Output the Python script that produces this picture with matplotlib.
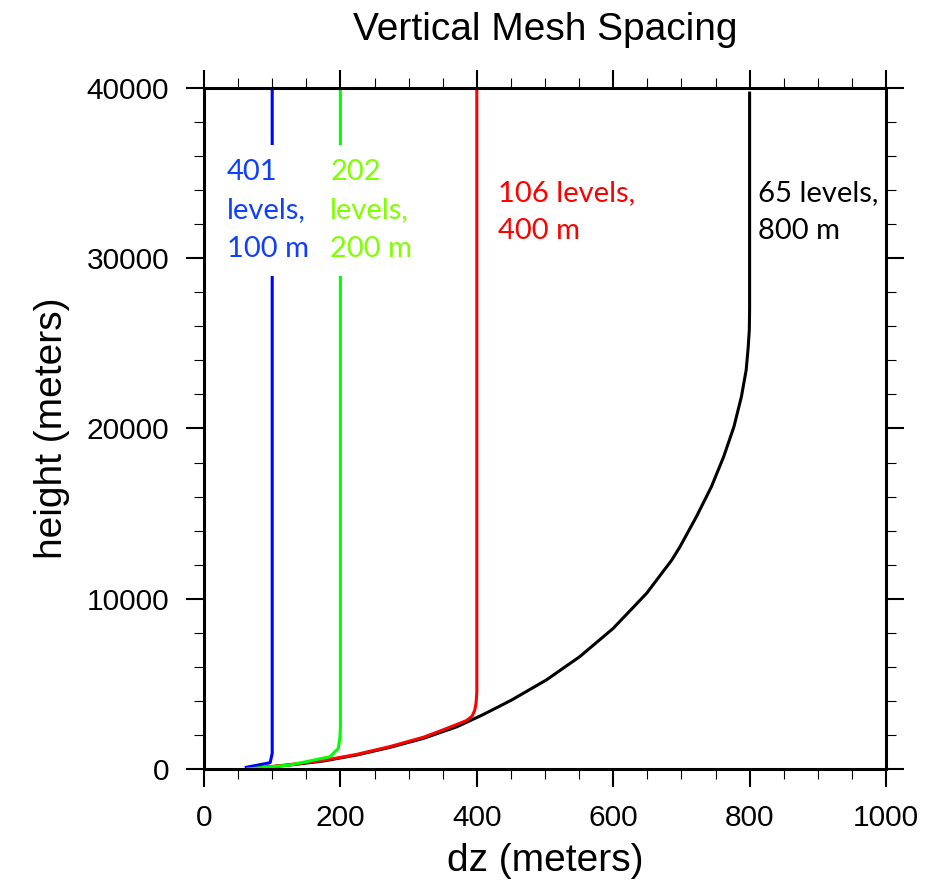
#!/usr/bin/env python3
# Vertical mesh spacing: layer thickness dz against height
import matplotlib
matplotlib.use("Agg")
import matplotlib.pyplot as plt
from matplotlib.ticker import MultipleLocator


# (dz, height) pairs for each grid.
dz_65 = [64, 126, 175, 224, 273, 322, 371, 408, 434, 451, 502, 551, 600,
         649, 686, 698, 722, 744, 762, 777, 788, 795, 798, 799.6, 800, 800]
z_65 = [0, 235, 470, 822, 1275, 1803, 2485, 3172, 3700, 4050, 5230, 6600,
        8260, 10320, 12280, 13060, 14820, 16580, 18345, 20100, 21870, 23440,
        24800, 25800, 27000, 39700]

dz_106 = [64, 126, 175, 224, 273, 322, 346, 371, 385, 393, 397, 399, 400, 400]
z_106 = [0, 260, 500, 860, 1320, 1870, 2230, 2620, 2850, 3100, 3450, 3900,
         4500, 39880]

dz_202 = [64, 126, 150, 185, 197, 199.4, 200, 200]
z_202 = [0, 235, 430, 724, 1215, 1900, 2500, 40000]

dz_401 = [62, 97, 100, 100]
z_401 = [100, 370, 920, 40000]

labels = ["65 levels,\n800 m", "106 levels,\n400 m",
          "202\nlevels,\n200 m", "401\nlevels,\n100 m"]


fig = plt.figure(figsize=(9.34, 8.93), dpi=100)
ax = fig.add_axes([204/934, 1 - 769/893, 682/934, 681/893])

ax.plot(dz_65, z_65, color="black", lw=2.2)
ax.plot(dz_106, z_106, color="red", lw=2.2)
ax.plot(dz_401, z_401, color="blue", lw=2.2)
ax.plot(dz_202, z_202, color="#00ff00", lw=2.2)

ax.set_xlim(0, 1000)
ax.set_ylim(0, 40000)


# Curve labels (blue and green sit on a white box that hides the line).
# va="baseline" on multi-line text anchors the last line.
txt = dict(family="Lato", fontsize=21, linespacing=1.6, va="baseline", ha="left")
ax.text(813, 31110, labels[0], color="black", **txt)
ax.text(431, 31110, labels[1], color="red", **txt)
box = dict(facecolor="white", edgecolor="none", pad=10)
ax.text(185, 30090, labels[2], color="#80ff00", bbox=box, **txt)
ax.text(33, 30090, labels[3], color="#1040ff", bbox=box, **txt)


# NCL-style frame: outward ticks on all four sides.
for s in ax.spines.values():
    s.set_linewidth(2.2)
ax.xaxis.set_major_locator(MultipleLocator(200))
ax.xaxis.set_minor_locator(MultipleLocator(50))
ax.yaxis.set_major_locator(MultipleLocator(10000))
ax.yaxis.set_minor_locator(MultipleLocator(2000))
ax.tick_params(which="both", direction="out", top=True, right=True)
ax.tick_params(which="major", length=13, width=1.5, pad=12, labelsize=21.5)
ax.tick_params(which="minor", length=7, width=0.8)
for lab in ax.get_xticklabels() + ax.get_yticklabels():
    lab.set_family("Liberation Sans")

ax.set_xlabel("dz (meters)", family="Liberation Sans", fontsize=28, labelpad=8)
ax.set_ylabel("height (meters)", family="Liberation Sans", fontsize=28, labelpad=12)
fig.text(545/934, 1 - 40/893, "Vertical Mesh Spacing", family="Liberation Sans",
         fontsize=28, ha="center", va="baseline")


fig.savefig("out.png", dpi=100)
